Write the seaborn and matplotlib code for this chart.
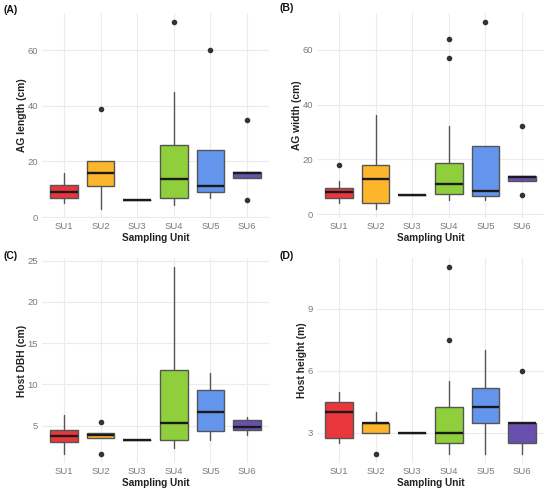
import matplotlib
matplotlib.use("Agg")
import matplotlib.pyplot as plt
import seaborn as sns

units = ["SU1", "SU2", "SU3", "SU4", "SU5", "SU6"]
colors = ["#E9363C", "#FDB52C", "#E9363C", "#8FCF3B", "#6495ED", "#6A50AE"]

# (A) AG length (cm)
a_q1 = [7.0, 11.0, 6.0, 7.0, 9.0, 14.0]
a_med = [9.0, 16.0, 6.0, 13.5, 11.0, 15.7]
a_q3 = [11.5, 20.0, 6.0, 26.0, 24.0, 16.2]
a_lo = [5.0, 3.0, 6.0, 4.2, 7.0, 14.0]
a_hi = [16.0, 20.0, 6.0, 45.0, 24.0, 16.2]
a_out = [[], [39.0], [], [70.0], [60.0], [35.0, 6.0]]

# (B) AG width (cm)
b_q1 = [6.0, 4.0, 7.0, 7.2, 6.5, 12.0]
b_med = [8.0, 13.0, 7.0, 11.0, 8.5, 13.7]
b_q3 = [9.5, 18.0, 7.0, 18.8, 25.0, 14.0]
b_lo = [4.0, 2.0, 7.0, 5.0, 5.0, 12.0]
b_hi = [12.0, 36.0, 7.0, 32.0, 25.0, 14.0]
b_out = [[18.0], [], [], [57.0, 64.0], [70.0], [32.0, 7.0]]

# (C) Host DBH (cm)
c_q1 = [3.05, 3.5, 3.2, 3.3, 4.4, 4.5]
c_med = [3.8, 3.85, 3.2, 5.3, 6.7, 4.85]
c_q3 = [4.5, 4.15, 3.2, 11.7, 9.35, 5.7]
c_lo = [1.6, 3.5, 3.2, 2.3, 3.2, 3.9]
c_hi = [6.3, 4.15, 3.2, 24.2, 11.4, 6.0]
c_out = [[], [5.45, 1.6], [], [], [], []]

# (D) Host height (m)
d_q1 = [2.75, 3.0, 3.0, 2.5, 3.5, 2.5]
d_med = [4.0, 3.5, 3.0, 3.0, 4.25, 3.5]
d_q3 = [4.5, 3.5, 3.0, 4.25, 5.15, 3.5]
d_lo = [2.5, 3.0, 3.0, 2.0, 2.0, 2.0]
d_hi = [5.0, 4.0, 3.0, 5.5, 7.0, 3.5]
d_out = [[], [2.0], [], [7.5, 11.0], [], [6.0]]

panels = [
    ("(A)", "AG length (cm)", [0, 20, 40, 60], a_q1, a_med, a_q3, a_lo, a_hi, a_out),
    ("(B)", "AG width (cm)", [0, 20, 40, 60], b_q1, b_med, b_q3, b_lo, b_hi, b_out),
    ("(C)", "Host DBH (cm)", [5, 10, 15, 20, 25], c_q1, c_med, c_q3, c_lo, c_hi, c_out),
    ("(D)", "Host height (m)", [3, 6, 9], d_q1, d_med, d_q3, d_lo, d_hi, d_out),
]

sns.set_theme(style="whitegrid")
plt.rcParams["font.family"] = ["Liberation Sans", "DejaVu Sans"]

W, H = 550, 490
fig = plt.figure(figsize=(W / 100, H / 100), dpi=100)
fig.patch.set_facecolor("white")

# panel rectangles in pixels: left, top, right, bottom
rects = [(42, 13, 269, 218), (317, 13, 544, 218),
         (42, 258, 269, 463), (317, 258, 544, 463)]
tag_pos = [(4, 10), (279, 8), (4, 256), (279, 256)]

for (tag, ylab, yt, q1, med, q3, lo, hi, out), (l, t, r, b), (tx, ty) in zip(panels, rects, tag_pos):
    ax = fig.add_axes([l / W, 1 - b / H, (r - l) / W, (b - t) / H])
    stats = []
    for i in range(len(units)):
        stats.append(dict(med=med[i], q1=q1[i], q3=q3[i],
                          whislo=lo[i], whishi=hi[i], fliers=out[i]))
    bp = ax.bxp(stats, positions=list(range(len(units))), widths=0.75,
                patch_artist=True, showcaps=False,
                boxprops=dict(edgecolor="#555555", linewidth=1.0),
                whiskerprops=dict(color="#555555", linewidth=1.0),
                medianprops=dict(color="#1a1a1a", linewidth=1.7),
                flierprops=dict(marker="o", markersize=3.0, markerfacecolor="#333333",
                                markeredgecolor="#333333"))
    for patch, c in zip(bp["boxes"], colors):
        patch.set_facecolor(c)
        patch.set_zorder(2)
    allv = lo + hi + [v for o in out for v in o]
    vmin, vmax = min(allv), max(allv)
    pad = 0.05 * (vmax - vmin)
    ax.set_ylim(vmin - pad, vmax + pad)
    ax.set_xlim(-0.6, len(units) - 0.4)
    ax.set_xticks(range(len(units)))
    ax.set_xticklabels(units)
    ax.set_yticks(yt)
    ax.set_facecolor("white")
    ax.grid(True, color="#EBEBEB", linewidth=0.8)
    ax.set_axisbelow(True)
    sns.despine(ax=ax, left=True, bottom=True)
    ax.tick_params(axis="both", length=0, labelsize=6.8, colors="#7a7a7a", pad=3)
    ax.set_xlabel("Sampling Unit", fontsize=7.2, fontweight="bold", color="#222222", labelpad=1)
    ax.set_ylabel(ylab, fontsize=7.4, fontweight="bold", color="#222222", labelpad=0)
    fig.text(tx / W, 1 - ty / H, tag, fontsize=7.5, fontweight="bold",
             color="#111111", ha="left", va="center")

fig.savefig("out.png", dpi=100, facecolor="white")
